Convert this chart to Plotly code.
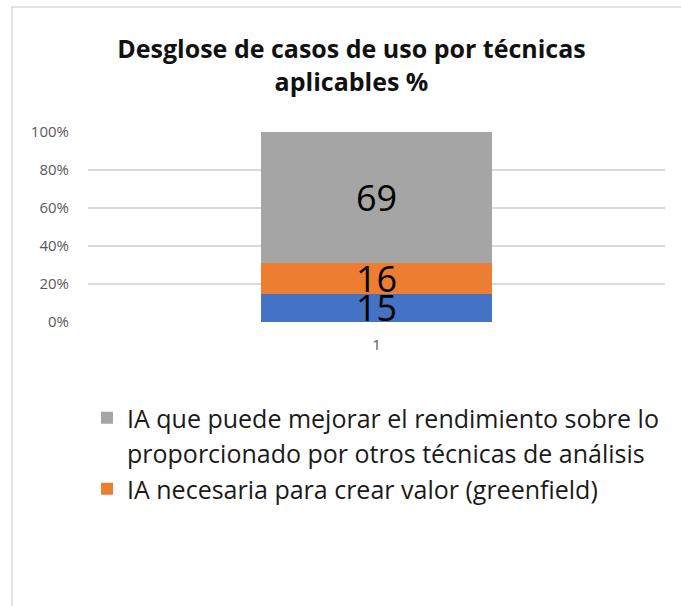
import plotly.graph_objects as go

categories = ["1"]
series_names = [
    "IA que se beneficia de otras técnicas",
    "IA necesaria para crear valor (greenfield)",
    "IA que puede mejorar el rendimiento sobre lo",
]
series_values = [[15], [16], [69]]
series_colors = ["#4472C4", "#ED7D31", "#A5A5A5"]
show_in_legend = [False, True, True]
legend_continuation = "proporcionado por otros técnicas de análisis"
y_ticks = [0, 20, 40, 60, 80, 100]
y_tick_labels = ["0%", "20%", "40%", "60%", "80%", "100%"]
title_text = "Desglose de casos de uso por técnicas<br>aplicables %"

FONT = "Open Sans"
W, H = 681, 606

fig = go.Figure()
for i, (name, vals, col, sl) in enumerate(zip(series_names, series_values, series_colors, show_in_legend)):
    if i == len(series_names) - 1:
        # wrapped second line of the last legend label (no symbol, no mark)
        fig.add_trace(go.Bar(
            x=categories, y=[0], name=legend_continuation,
            marker=dict(color="rgba(0,0,0,0)", line=dict(width=0)),
            textposition="none", hoverinfo="skip", showlegend=True, width=0.4,
        ))
    fig.add_trace(go.Bar(
        x=categories, y=vals, name=name, marker=dict(color=col, line=dict(width=0)),
        text=[str(v) for v in vals], texttemplate="%{text}",
        textposition="inside", insidetextanchor="middle", constraintext="none",
        textangle=0, textfont=dict(family=FONT, size=36, color="#000000"),
        showlegend=sl, width=0.4,
    ))

fig.update_layout(
    width=W, height=H,
    barmode="stack", barnorm="percent",
    paper_bgcolor="white", plot_bgcolor="white",
    margin=dict(l=88, r=16, t=132, b=284, autoexpand=False),
    font=dict(family=FONT, color="#595959"),
    title=dict(text=title_text, x=351.5 / W, xanchor="center", xref="container",
               y=1 - 58 / H, yanchor="middle", yref="container",
               font=dict(family=FONT, size=25, color="#111111", weight="bold")),
    legend=dict(orientation="v", traceorder="reversed", xref="container", yref="container",
                x=87 / W, xanchor="left", y=1 - 395 / H, yanchor="top",
                font=dict(family=FONT, size=25, color="#1a1a1a"),
                bgcolor="rgba(0,0,0,0)", tracegroupgap=0, itemclick=False, itemdoubleclick=False),
    xaxis=dict(type="category", showgrid=False, showline=False, ticks="",
               ticklabelstandoff=12,
               tickfont=dict(family=FONT, size=15, color="#595959"), fixedrange=True),
    yaxis=dict(range=[0, 100], tickvals=y_ticks, ticktext=y_tick_labels,
               showgrid=True, gridcolor="#d9d9d9", gridwidth=1.5, zeroline=False,
               showline=False, ticks="", ticklabelstandoff=18,
               tickfont=dict(family=FONT, size=15, color="#595959"), fixedrange=True),
    shapes=[dict(type="rect", xref="paper", yref="paper",
                 x0=(12 - 88) / 577, x1=(700 - 88) / 577,
                 y0=(322 - 620) / 190, y1=(322 - 7) / 190,
                 line=dict(color="#d9d9d9", width=1.5), fillcolor="rgba(0,0,0,0)", layer="below")],
)

fig.write_html("out.html", config={"displayModeBar": False},
               post_script="document.body.style.margin='0';")
